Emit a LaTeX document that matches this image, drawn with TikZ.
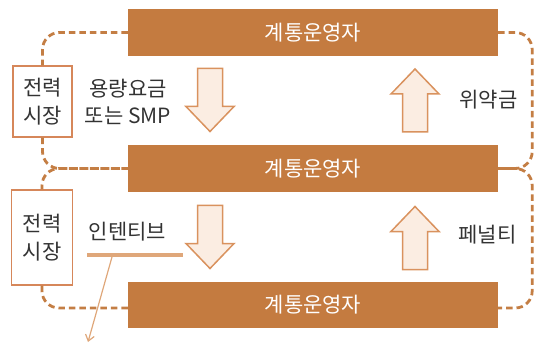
\documentclass[tikz,border=0pt]{standalone}
\usepackage{fontspec}
\usetikzlibrary{arrows.meta}
\setmainfont{Noto Sans CJK KR}
\newfontfamily\kr{Noto Sans CJK KR}
\definecolor{barcol}{HTML}{C47B40}
\definecolor{dashcol}{HTML}{C47E44}
\definecolor{boxcol}{HTML}{D6875A}
\definecolor{arrfill}{HTML}{FBEDE2}
\definecolor{arrdraw}{HTML}{D9925E}
\definecolor{ulcol}{HTML}{DFA77A}
\definecolor{txtcol}{HTML}{333333}
\tikzset{
  bar/.style={fill=barcol, draw=none, minimum width=370pt, inner sep=0pt,
    text=white, font=\kr\fontsize{21}{25}\selectfont},
  mktbox/.style={draw=boxcol, line width=1.3pt, fill=white, inner sep=0pt,
    align=center, text=txtcol, font=\kr\fontsize{21}{27.5}\selectfont},
  lbl/.style={text=txtcol, inner sep=0pt, align=center, font=\kr\fontsize{21}{27}\selectfont},
  dashloop/.style={draw=dashcol, line width=2.8pt, dash pattern=on 6.5pt off 4pt, rounded corners=17pt},
  pics/bigarr/.style={code={
    \draw[draw=arrdraw, fill=arrfill, line width=1.5pt, line join=miter]
      (-12.5,-31.5) -- (12.5,-31.5) -- (12.5,6.5) -- (24,6.5) -- (0,31.5)
      -- (-24,6.5) -- (-12.5,6.5) -- cycle;
  }}
}
\begin{document}
\begin{tikzpicture}[x=1pt, y=-1pt]
\useasboundingbox (0,0) rectangle (534,344);
% bars
\node[bar, minimum height=47pt] (bar1) at (313,32.5) {계통운영자};
\node[bar, minimum height=47pt] (bar2) at (313,168.5) {계통운영자};
\node[bar, minimum height=46pt] (bar3) at (313,305) {계통운영자};
% market boxes
\node[mktbox, minimum width=59pt, minimum height=71pt] (box1) at (42.5,101.5) {전력\\시장};
\node[mktbox, minimum width=61pt, minimum height=95pt] (box2) at (42,237.5) {전력\\시장};
% dashed loops
\draw[dashloop] (bar1.west) -| (box1.north);
\draw[dashloop] (box1.south) |- (bar2.west);
\draw[dashloop] (bar2.west) -| (box2.north);
\draw[dashloop] (box2.south) |- ([yshift=-3pt]bar3.west);
\draw[dashloop] (bar1.east) -- ++(34,0) |- (bar2.east);
\draw[dashloop] (bar2.east) -- ++(34,0) |- ([yshift=-3pt]bar3.east);
% big arrows
\pic at (210,100) {bigarr};
\pic at (210,237) {bigarr};
\pic[rotate=180] at (415,100.5) {bigarr};
\pic[rotate=180] at (415,238) {bigarr};
% labels
\node[lbl] (cap) at (128,101.5) {용량요금\\또는 SMP};
\node[lbl] (pen1) at (488.5,100) {위약금};
\node[lbl] (pen2) at (487.5,235) {페널티};
\node[lbl] (inc) at (127.5,232) {인텐티브};
% underline and pointer
\coordinate (ulA) at (87,255);
\coordinate (ulB) at (183,255);
\draw[draw=ulcol, line width=4.5pt] (ulA) -- (ulB);
\coordinate (ptA) at (112,257);
\coordinate (ptB) at (88,342);
\draw[draw=ulcol, line width=1.2pt, -{Straight Barb[length=6pt,width=9pt]}] (ptA) -- (ptB);
\end{tikzpicture}
\end{document}
